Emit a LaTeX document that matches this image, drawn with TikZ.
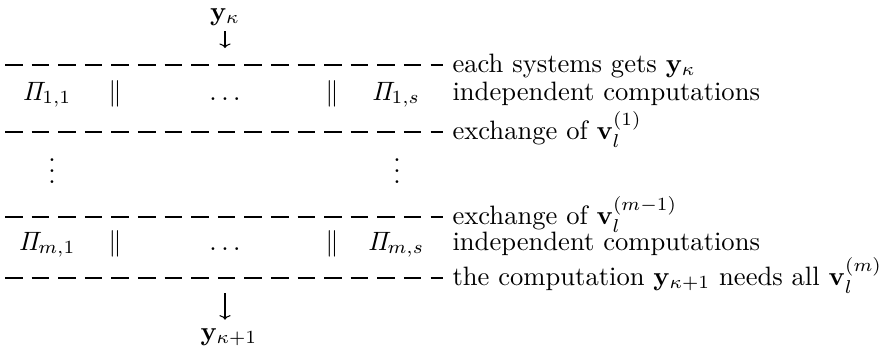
\documentclass[tikz,border=0pt]{standalone}
\usepackage{amsmath,amssymb}
\usepackage{tikz}
\usetikzlibrary{arrows.meta,positioning}
\tikzset{
    every picture/.style={line cap=butt,line join=round},
    sepline/.style={line width=0.7pt,dash pattern=on 6.6pt off 3.4pt},
    cell/.style={anchor=base,inner sep=0pt},
    note/.style={anchor=base west,inner sep=0pt},
    flowarrow/.style={-{To[length=1.7pt,width=4.2pt]},line width=0.4pt}
}
\begin{document}
\begin{tikzpicture}[x=0.376pt,y=-0.376pt]
  \useasboundingbox (0,0) rectangle (886,354);
  \node[cell] (yk) at (225,20){$\mathbf{y}_\kappa$};
  \coordinate (yktip) at (225,48);
  \draw[flowarrow,shorten <=2pt] (yk) -- (yktip);
  \coordinate (s1l) at (5,65);  \coordinate (s1r) at (443,65);
  \coordinate (s2l) at (5,132); \coordinate (s2r) at (443,132);
  \coordinate (s3l) at (5,217); \coordinate (s3r) at (443,217);
  \coordinate (s4l) at (5,278); \coordinate (s4r) at (443,278);
  \foreach \s in {1,...,4}{\draw[sepline] (s\s l) -- (s\s r);}
  \node[cell] (p11) at (47,100){$\mathit{\Pi}_{1,1}$};
  \node[cell] (bar11) at (115,100){$\|$};
  \node[cell] (dots1) at (225,100){$\ldots$};
  \node[cell] (bar1s) at (332,100){$\|$};
  \node[cell] (p1s) at (396,100){$\mathit{\Pi}_{1,s}$};
  \node[cell] (vd1) at (52,183){$\vdots$};
  \node[cell] (vds) at (397,183){$\vdots$};
  \node[cell] (pm1) at (47,250){$\mathit{\Pi}_{m,1}$};
  \node[cell] (barm1) at (115,250){$\|$};
  \node[cell] (dotsm) at (225,250){$\ldots$};
  \node[cell] (barms) at (332,250){$\|$};
  \node[cell] (pms) at (396,250){$\mathit{\Pi}_{m,s}$};
  \node[note] (n1) at (452,72){each systems gets $\mathbf{y}_\kappa$};
  \node[note] (n2) at (452,100){independent computations};
  \node[note] (n3) at (452,139){exchange of $\mathbf{v}_l^{(1)}$};
  \node[note] (n4) at (452,224){exchange of $\mathbf{v}_l^{(m-1)}$};
  \node[note] (n5) at (452,250){independent computations};
  \node[note] (n6) at (452,285){the computation $\mathbf{y}_{\kappa+1}$ needs all $\mathbf{v}_l^{(m)}$};
  \coordinate (ykktail) at (225,293);
  \node[cell] (ykk) at (229,340){$\mathbf{y}_{\kappa+1}$};
  \draw[flowarrow,shorten >=3pt] (ykktail) -- (ykk.north -| ykktail);
\end{tikzpicture}
\end{document}
